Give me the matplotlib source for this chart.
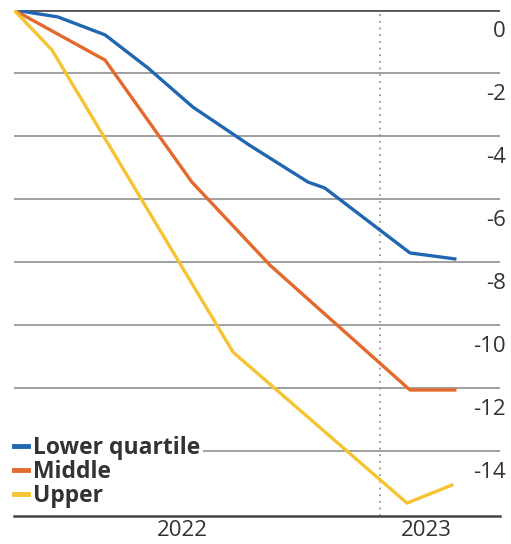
import matplotlib
matplotlib.use("Agg")
import matplotlib.pyplot as plt
import matplotlib.transforms as mtransforms

plt.rcParams["font.family"] = ["Open Sans", "DejaVu Sans"]
plt.rcParams["axes.unicode_minus"] = False

# months since Jan 2022, change in %
lower_x = [0.91, 2.24, 3.67, 4.97, 6.33, 8.06, 9.82, 10.33, 12.91, 14.27]
lower_y = [0.0, -0.22, -0.79, -1.84, -3.08, -4.3, -5.46, -5.65, -7.71, -7.9]

middle_x = [0.91, 3.67, 6.30, 8.67, 12.91, 14.27]
middle_y = [0.0, -1.59, -5.46, -8.1, -12.06, -12.06]

upper_x = [0.91, 2.06, 7.55, 12.82, 14.18]
upper_y = [0.0, -1.27, -10.86, -15.65, -15.08]

yticks = [0, -2, -4, -6, -8, -10, -12, -14]
year_pos = [6.0, 13.4]
year_labels = ["2022", "2023"]

blue = "#2066b0"
orange = "#e4692c"
yellow = "#f5c431"
text_col = "#333333"

fig = plt.figure(figsize=(5.11, 5.44), dpi=100)
ax = fig.add_axes([14 / 511, 1 - 516 / 544, 486 / 511, 506 / 544])

ax.set_xlim(0.91, 15.64)
ax.set_ylim(-16.06, 0)

for v in yticks[1:]:
    ax.axhline(v, color="#a0a0a0", lw=1.4, zorder=1)
ax.axhline(0, color="#555555", lw=2, zorder=1)
ax.axvline(12, color="#888888", lw=1.2, ls=(0, (1, 3)), zorder=1)

ax.plot(lower_x, lower_y, color=blue, lw=2.4, label="Lower quartile", zorder=3)
ax.plot(middle_x, middle_y, color=orange, lw=2.4, label="Middle", zorder=3)
ax.plot(upper_x, upper_y, color=yellow, lw=2.4, label="Upper", zorder=3)

for s in ["top", "left", "right"]:
    ax.spines[s].set_visible(False)
ax.spines["bottom"].set_color("#444444")
ax.spines["bottom"].set_linewidth(1.8)

ax.yaxis.tick_right()
ax.set_yticks(yticks)
ax.set_yticklabels([str(v) for v in yticks])
ax.tick_params(axis="y", length=0, pad=4, labelsize=16, labelcolor=text_col)
offset = mtransforms.ScaledTranslation(0, -19 / 100, fig.dpi_scale_trans)
for lab in ax.get_yticklabels():
    lab.set_horizontalalignment("right")
    lab.set_transform(lab.get_transform() + offset)

ax.set_xticks(year_pos)
ax.set_xticklabels(year_labels)
ax.tick_params(axis="x", length=0, pad=3, labelsize=16, labelcolor=text_col)

leg = ax.legend(loc="lower left", bbox_to_anchor=(-0.005, 0.011), frameon=True,
                handlelength=0.6, handletextpad=0.25, labelspacing=0.0,
                borderpad=0.1, borderaxespad=0, prop={"weight": "bold", "size": 16.5})
leg.get_frame().set_facecolor("white")
leg.get_frame().set_edgecolor("none")
leg.get_frame().set_alpha(1)
for t in leg.get_texts():
    t.set_color(text_col)
for h in leg.legend_handles:
    h.set_linewidth(3.5)

fig.savefig("out.png", dpi=100)
